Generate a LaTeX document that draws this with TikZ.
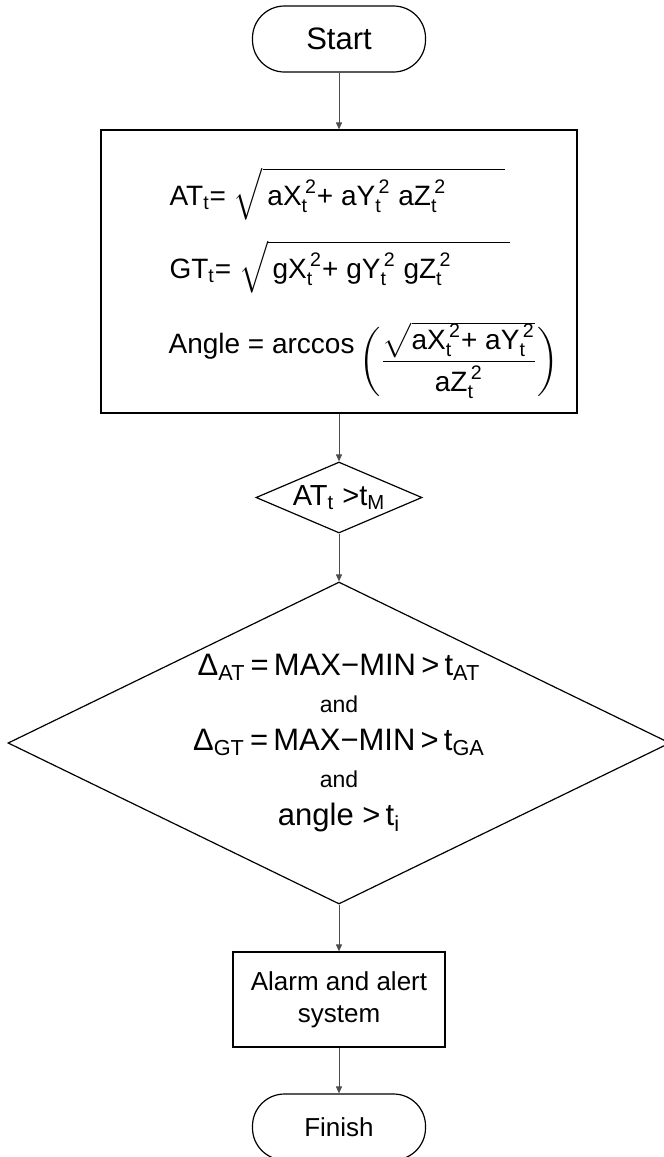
\documentclass[tikz,border=0pt]{standalone}
\usepackage{amsmath}
\usepackage{fontspec}
\setmainfont{Liberation Sans}
\usetikzlibrary{shapes.geometric,arrows.meta}
\newcommand{\tsq}[1]{\text{#1}_{\text{t}}^{\,\text{2}}}
\begin{document}
\begin{tikzpicture}[x=0.5pt,y=0.5pt,line width=0.6pt,
  term/.style={draw,rectangle,rounded corners=16pt,minimum width=86.5pt,minimum height=33pt},
  proc/.style={draw,rectangle},
  test/.style={draw,diamond,inner sep=0pt},
  eqn/.style={anchor=base west,inner sep=0pt,font=\fontsize{14}{17}\selectfont},
  flow/.style={draw=black!70,line width=0.5pt,-{Triangle[width=3pt,length=3.5pt]}}]
  \useasboundingbox (0,0) rectangle (664,-1157);
  \node[term,font=\fontsize{15.5}{18}\selectfont] (start) at (339,-39) {Start};
  \node[proc,minimum width=238pt,minimum height=141.5pt] (calc) at (339,-271.5) {};
  \node[eqn] (at) at (169,-205)
    {$\text{AT}_{\text{t}}\text{= }\sqrt{\,\tsq{aX}\text{+ }\tsq{aY}\text{ }\tsq{aZ}\hspace{2.1em}}$};
  \node[eqn] (gt) at (169,-278)
    {$\text{GT}_{\text{t}}\text{= }\sqrt{\,\tsq{gX}\text{+ }\tsq{gY}\text{ }\tsq{gZ}\hspace{2.1em}}$};
  \node[eqn] (angle) at (168,-353)
    {Angle = arccos\,\raisebox{-8pt}{$\displaystyle\biggl(\frac{\sqrt{\smash[t]{\tsq{aX}\text{+ }\tsq{aY}}\rule{0pt}{11.5pt}}}{\tsq{aZ}}\biggr)$}};
  \node[test,aspect=2.34,minimum width=83pt,minimum height=35.5pt,font=\fontsize{14.5}{17}\selectfont] (tm) at (339,-497.5)
    {AT\textsubscript{t} >t\textsubscript{M}};
  \node[test,aspect=2.06,minimum width=331pt,minimum height=161pt,align=center,font=\fontsize{15.5}{18.75}\selectfont] (cond) at (339,-743)
    {Δ\textsubscript{AT}\,=\,MAX−MIN\,>\,t\textsubscript{AT}\\
     {\fontsize{11.5}{18.75}\selectfont and}\\
     Δ\textsubscript{GT}\,=\,MAX−MIN\,>\,t\textsubscript{GA}\\
     {\fontsize{11.5}{18.75}\selectfont and}\\
     angle >\,t\textsubscript{i}};
  \node[proc,minimum width=106pt,minimum height=47.5pt,align=center,font=\fontsize{13}{16}\selectfont] (alarm) at (339,-999.5)
    {Alarm and alert\\system};
  \node[term,font=\fontsize{13}{16}\selectfont] (finish) at (339,-1127) {Finish};
  \foreach \a/\b in {start/calc, calc/tm, tm/cond, cond/alarm, alarm/finish}
    \draw[flow] (\a) -- (\b);
\end{tikzpicture}
\end{document}
